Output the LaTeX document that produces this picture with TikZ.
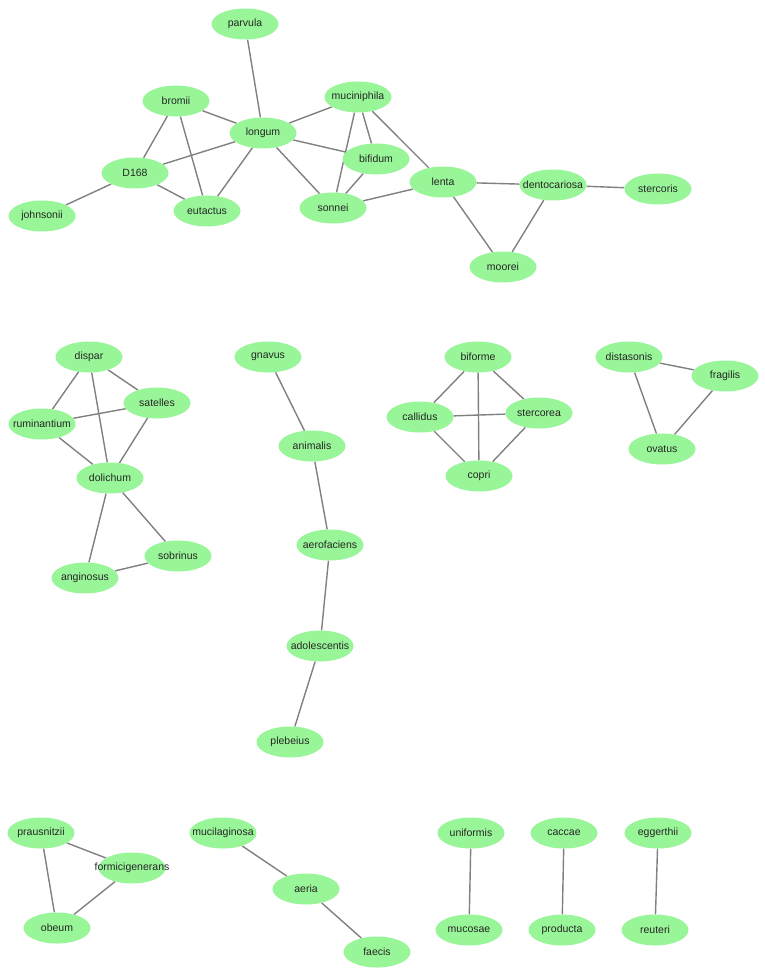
\documentclass[tikz,border=0pt]{standalone}
\usepackage{fontspec}
\setmainfont{Liberation Sans}
\usepackage{xcolor}
\usetikzlibrary{shapes.geometric, backgrounds}
\definecolor{taxgreen}{RGB}{152,245,152}
\definecolor{edgegray}{RGB}{128,128,128}
\tikzstyle{taxon} = [ellipse, fill=taxgreen, draw=none, minimum width=67pt, minimum height=31pt, inner sep=0pt, label={[font=\fontsize{10.5}{12}\selectfont, text=black!85]center:#1}]
\tikzstyle{link} = [draw=edgegray, line width=1.4pt]

\begin{document}
\begin{tikzpicture}[x=1pt, y=-1pt]
    \useasboundingbox (0,0) rectangle (764,973);

    % === CLUSTER 1: longum network ===
    \node[taxon=parvula] (parvula) at (245,24) {};
    \node[taxon=bromii] (bromii) at (176,101) {};
    \node[taxon=longum] (longum) at (263,133) {};
    \node[taxon=muciniphila] (muciniphila) at (358,97) {};
    \node[taxon=bifidum] (bifidum) at (376,159) {};
    \node[taxon=D168] (d168) at (135,173) {};
    \node[taxon=johnsonii] (johnsonii) at (42,216) {};
    \node[taxon=eutactus] (eutactus) at (207,211) {};
    \node[taxon=sonnei] (sonnei) at (333,208) {};
    \node[taxon=lenta] (lenta) at (443,182) {};
    \node[taxon=dentocariosa] (dentocariosa) at (553,185) {};
    \node[taxon=stercoris] (stercoris) at (658,189) {};
    \node[taxon=moorei] (moorei) at (503,267) {};

    % === CLUSTER 2: dolichum ===
    \node[taxon=dispar] (dispar) at (89,357) {};
    \node[taxon=satelles] (satelles) at (157,403) {};
    \node[taxon=ruminantium] (ruminantium) at (42,424) {};
    \node[taxon=dolichum] (dolichum) at (110,478) {};
    \node[taxon=sobrinus] (sobrinus) at (178,556) {};
    \node[taxon=anginosus] (anginosus) at (85,578) {};

    % === CLUSTER 3: chain ===
    \node[taxon=gnavus] (gnavus) at (268,357) {};
    \node[taxon=animalis] (animalis) at (312,446) {};
    \node[taxon=aerofaciens] (aerofaciens) at (330,545) {};
    \node[taxon=adolescentis] (adolescentis) at (320,646) {};
    \node[taxon=plebeius] (plebeius) at (290,742) {};

    % === CLUSTER 4 + 5 ===
    \node[taxon=biforme] (biforme) at (478,357) {};
    \node[taxon=callidus] (callidus) at (420,417) {};
    \node[taxon=stercorea] (stercorea) at (539,413) {};
    \node[taxon=copri] (copri) at (479,476) {};
    \node[taxon=distasonis] (distasonis) at (629,357) {};
    \node[taxon=fragilis] (fragilis) at (725,376) {};
    \node[taxon=ovatus] (ovatus) at (662,449) {};

    % === BOTTOM ROW: small clusters ===
    \node[taxon=prausnitzii] (prausnitzii) at (41,833) {};
    \node[taxon=formicigenerans] (formicigenerans) at (132,868) {};
    \node[taxon=obeum] (obeum) at (57,928) {};
    \node[taxon=mucilaginosa] (mucilaginosa) at (223,833) {};
    \node[taxon=aeria] (aeria) at (306,889) {};
    \node[taxon=faecis] (faecis) at (377,952) {};
    \node[taxon=uniformis] (uniformis) at (471,833) {};
    \node[taxon=mucosae] (mucosae) at (469,930) {};
    \node[taxon=caccae] (caccae) at (564,833) {};
    \node[taxon=producta] (producta) at (562,930) {};
    \node[taxon=eggerthii] (eggerthii) at (658,833) {};
    \node[taxon=reuteri] (reuteri) at (655,930) {};

    % ===== EDGES =====
    \begin{scope}[on background layer]
    % cluster 1
    \draw[link] (parvula) -- (longum);
    \draw[link] (bromii) -- (longum);
    \draw[link] (bromii) -- (d168);
    \draw[link] (bromii) -- (eutactus);
    \draw[link] (longum) -- (muciniphila);
    \draw[link] (longum) -- (d168);
    \draw[link] (longum) -- (eutactus);
    \draw[link] (longum) -- (sonnei);
    \draw[link] (longum) -- (bifidum);
    \draw[link] (d168) -- (johnsonii);
    \draw[link] (d168) -- (eutactus);
    \draw[link] (muciniphila) -- (sonnei);
    \draw[link] (muciniphila) -- (bifidum);
    \draw[link] (muciniphila) -- (lenta);
    \draw[link] (bifidum) -- (sonnei);
    \draw[link] (sonnei) -- (lenta);
    \draw[link] (lenta) -- (dentocariosa);
    \draw[link] (lenta) -- (moorei);
    \draw[link] (dentocariosa) -- (moorei);
    \draw[link] (dentocariosa) -- (stercoris);

    % cluster 2
    \draw[link] (dispar) -- (ruminantium);
    \draw[link] (dispar) -- (dolichum);
    \draw[link] (dispar) -- (satelles);
    \draw[link] (satelles) -- (ruminantium);
    \draw[link] (satelles) -- (dolichum);
    \draw[link] (ruminantium) -- (dolichum);
    \draw[link] (dolichum) -- (anginosus);
    \draw[link] (dolichum) -- (sobrinus);
    \draw[link] (sobrinus) -- (anginosus);

    % cluster 3
    \draw[link] (gnavus) -- (animalis);
    \draw[link] (animalis) -- (aerofaciens);
    \draw[link] (aerofaciens) -- (adolescentis);
    \draw[link] (adolescentis) -- (plebeius);

    % cluster 4 + 5
    \draw[link] (biforme) -- (callidus);
    \draw[link] (biforme) -- (copri);
    \draw[link] (biforme) -- (stercorea);
    \draw[link] (callidus) -- (stercorea);
    \draw[link] (callidus) -- (copri);
    \draw[link] (stercorea) -- (copri);
    \draw[link] (distasonis) -- (fragilis);
    \draw[link] (distasonis) -- (ovatus);
    \draw[link] (fragilis) -- (ovatus);

    % bottom row
    \draw[link] (prausnitzii) -- (formicigenerans);
    \draw[link] (prausnitzii) -- (obeum);
    \draw[link] (formicigenerans) -- (obeum);
    \draw[link] (mucilaginosa) -- (aeria);
    \draw[link] (aeria) -- (faecis);
    \draw[link] (uniformis) -- (mucosae);
    \draw[link] (caccae) -- (producta);
    \draw[link] (eggerthii) -- (reuteri);
    \end{scope}
\end{tikzpicture}
\end{document}
